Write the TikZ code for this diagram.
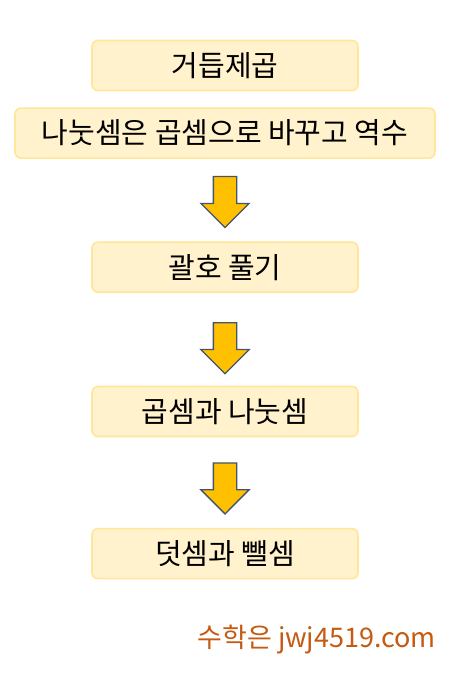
\documentclass[tikz,border=0pt]{standalone}
\usepackage{fontspec}
\setmainfont{Noto Sans CJK KR}
\usetikzlibrary{positioning,shapes.arrows}

\definecolor{boxfill}{HTML}{FFF2CC}
\definecolor{boxline}{HTML}{FFE699}
\definecolor{arrfill}{HTML}{FFC000}
\definecolor{arrline}{HTML}{44546A}
\definecolor{markcol}{HTML}{C55A11}

\begin{document}
\begin{tikzpicture}[
  x=1pt, y=1pt,
  box/.style={draw=boxline, fill=boxfill, line width=1.6pt, rounded corners=6pt, align=center, font=\fontsize{29}{32}\selectfont, minimum height=50pt, inner sep=0pt},
  down/.style={single arrow, shape border rotate=270, draw=arrline, fill=arrfill, line width=1.3pt, inner sep=11pt, minimum height=51pt, single arrow head extend=12.5pt, single arrow head indent=0pt}
]
\useasboundingbox (0,0) rectangle (466,-685);
\node[box, minimum width=266pt] (n1) at (225,-65.5) {거듭제곱};
\node[box, minimum width=420pt, below=16pt of n1] (n2) {나눗셈은 곱셈으로 바꾸고 역수};
\node[down, below=17pt of n2] (a1) {};
\node[box, minimum width=266pt, below=13pt of a1] (n3) {괄호 풀기};
\node[down, below=29pt of n3] (a2) {};
\node[box, minimum width=266pt, below=11pt of a2] (n4) {곱셈과 나눗셈};
\node[down, below=25pt of n4] (a3) {};
\node[box, minimum width=266pt, below=13pt of a3] (n5) {덧셈과 뺄셈};
\node[anchor=east, inner sep=0pt, text=markcol, font=\fontsize{27}{30}\selectfont] (mark) at (436,-640) {수학은 jwj4519.com};
\end{tikzpicture}
\end{document}
